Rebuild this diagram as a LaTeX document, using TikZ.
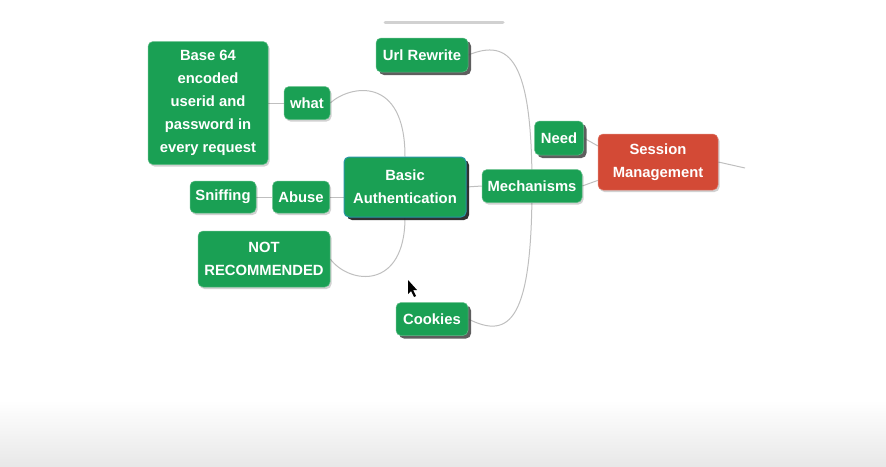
\documentclass[tikz,border=0pt]{standalone}
\usepackage{fontspec}
\setmainfont{Liberation Sans}
\usetikzlibrary{shadows,backgrounds}
\definecolor{mapgreen}{RGB}{26,160,84}
\definecolor{mapred}{RGB}{211,74,54}
\definecolor{mapteal}{RGB}{40,150,165}
\tikzset{
	topic/.style={fill=mapgreen,draw=mapgreen!70!white,line width=0.5pt,text=white,
		font=\fontsize{14.8}{23}\selectfont\bfseries,rounded corners=5pt,align=center,
		inner xsep=5pt,inner ysep=3pt,minimum height=33pt},
	lightshade/.style={drop shadow={shadow xshift=1.5pt,shadow yshift=-2pt,fill=black,opacity=0.18}},
	darkshade/.style={drop shadow={shadow xshift=3pt,shadow yshift=-3pt,fill=black!70,opacity=0.9}},
	rootshade/.style={drop shadow={shadow xshift=3pt,shadow yshift=-3pt,fill=black!85,opacity=0.95}},
	link/.style={draw=black!25,line width=1pt}
}
\begin{document}
\begin{tikzpicture}[x=1pt,y=-1pt]
		\useasboundingbox (0,0) rectangle (886,466);
		% topics
		\node[topic,lightshade,minimum width=120pt,minimum height=123pt] (base) at (208,103) {Base 64\\encoded\\userid and\\password in\\every request};
		\node[topic,lightshade,minimum width=46pt] (what) at (307,103) {what};
		\node[topic,rootshade,draw=mapteal,line width=1pt,minimum width=122pt,minimum height=60pt] (basic) at (405,187) {Basic\\Authentication};
		\node[topic,lightshade,minimum width=66pt,minimum height=32pt] (sniff) at (223,197) {Sniffing};
		\node[topic,lightshade,minimum width=57pt,minimum height=32pt] (abuse) at (301,197) {Abuse};
		\node[topic,lightshade,minimum width=132pt,minimum height=56pt] (notrec) at (264,259) {NOT\\RECOMMENDED};
		\node[topic,darkshade,minimum width=92pt,minimum height=34pt] (url) at (422,55) {Url Rewrite};
		\node[topic,darkshade,minimum width=72pt] (cookies) at (432,319) {Cookies};
		\node[topic,lightshade,minimum width=100pt] (mech) at (532,186) {Mechanisms};
		\node[topic,darkshade,minimum width=49pt,minimum height=34pt] (need) at (559,138) {Need};
		\node[topic,lightshade,fill=mapred,draw=mapred!70!white,minimum width=120pt,minimum height=56pt] (session) at (658,162) {Session\\Management};
		\coordinate (tail) at (745,168);
		% mouse pointer
		\fill[black] (408,280)--(408,294)--(411,291)--(414,297)--(416,296)--(413,290)--(417,290)--cycle;
		\begin{scope}[on background layer]
			\shade[top color=white,bottom color=black!9] (0,400) rectangle (886,466);
			\draw[line width=3pt,black!18,line cap=round] (385,22)--(503,22);
			% links
			\draw[link] (base.east)--(what.west);
			\draw[link] (what.east) .. controls (350,85) and (405,75) .. (basic.north);
			\draw[link] (basic.south) .. controls (405,290) and (350,285) .. (notrec.east);
			\draw[link] (sniff.east)--(abuse.west);
			\draw[link] (abuse.east)--(abuse.east -| basic.west);
			\draw[link] (basic.east)--(mech.west);
			\draw[link] (mech.center) .. controls (532,60) and (510,38) .. (url.east);
			\draw[link] (mech.center) .. controls (532,320) and (510,340) .. (cookies.east);
			\draw[link] (need.east)--(session.165);
			\draw[link] (mech.east)--(session.197);
			\draw[link] (session.east)--(tail);
		\end{scope}
	\end{tikzpicture}
\end{document}
